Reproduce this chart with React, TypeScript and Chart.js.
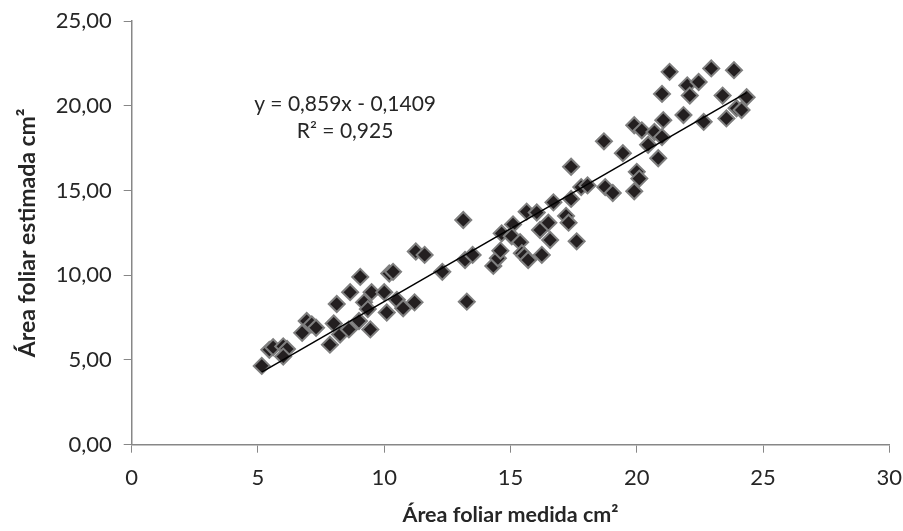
import React, { useEffect, useRef } from "react";
import { Chart, registerables } from "chart.js";

Chart.register(...registerables);

// Measured leaf area (x) and estimated leaf area (y), cm²
const measured: number[] = [
  5.15, 5.45, 5.6, 6.0, 6.15, 6.0, 6.75, 6.93, 7.13, 7.3, 7.85, 8.0, 8.25, 8.12, 8.6, 8.65,
  9.0, 9.05, 9.2, 9.35, 9.45, 9.5, 10.0, 10.2, 10.35, 10.1, 10.5, 10.75, 11.2, 11.25, 11.6, 12.3,
  13.13, 13.27, 13.2, 13.5, 14.32, 14.5, 14.6, 14.65, 15.1, 15.05, 15.38, 15.45, 15.55, 15.7,
  15.64, 16.04, 16.17, 16.24, 16.5, 16.57, 16.7, 17.2, 17.3, 17.4, 17.62, 17.4, 17.8, 18.05,
  18.7, 18.75, 19.05, 19.45, 19.9, 20.2, 20.45, 20.7, 21.0, 20.85, 20.0, 20.1, 19.9, 21.0,
  21.3, 21.05, 21.85, 22.0, 22.1, 22.45, 22.65, 22.95, 23.4, 23.55, 23.85, 23.95, 24.15, 24.35,
];
const estimated: number[] = [
  4.65, 5.6, 5.75, 5.8, 5.65, 5.2, 6.6, 7.3, 7.1, 6.9, 5.9, 7.15, 6.5, 8.3, 6.8, 9.0,
  7.3, 9.9, 8.4, 8.0, 6.8, 9.0, 9.0, 10.1, 10.2, 7.8, 8.55, 8.05, 8.4, 11.4, 11.2, 10.2,
  13.26, 8.44, 10.9, 11.2, 10.55, 11.0, 11.45, 12.47, 13.0, 12.3, 11.95, 11.3, 11.15, 10.9,
  13.75, 13.7, 12.67, 11.2, 13.1, 12.08, 14.3, 13.5, 13.1, 14.5, 12.0, 16.4, 15.2, 15.3,
  17.9, 15.2, 14.85, 17.2, 18.85, 18.55, 17.7, 18.45, 18.15, 16.9, 16.1, 15.7, 14.95, 20.7,
  22.0, 19.15, 19.45, 21.2, 20.6, 21.4, 19.05, 22.2, 20.6, 19.25, 22.1, 19.85, 19.75, 20.5,
];

// Linear trend (from the chart's equation)
const slope = 0.859;
const intercept = -0.1409;
const equationLines: string[] = ["y = 0,859x - 0,1409", "R² = 0,925"];
const equationAnchor = { x: 8.45, y: 20.1 };

const xTitle = "Área foliar medida cm²";
const yTitle = "Área foliar estimada cm²";
const xMax = 30;
const yMax = 25;
const tickStep = 5;

const FONT = "Lato";

export default function App() {
  const canvasRef = useRef<HTMLCanvasElement | null>(null);

  useEffect(() => {
    const canvas = canvasRef.current;
    if (!canvas) return;
    const points = measured.map((x, i) => ({ x, y: estimated[i] }));
    const xMinData = Math.min(...measured);
    const xMaxData = Math.max(...measured);
    const trend = [
      { x: xMinData, y: slope * xMinData + intercept },
      { x: xMaxData, y: slope * xMaxData + intercept },
    ];

    const annotationPlugin = {
      id: "equation",
      afterDraw(chart: any) {
        const ctx = chart.ctx;
        const xs = chart.scales.x;
        const ys = chart.scales.y;
        const px = xs.getPixelForValue(equationAnchor.x);
        const py = ys.getPixelForValue(equationAnchor.y);
        ctx.save();
        ctx.font = `21px ${FONT}`;
        ctx.fillStyle = "#262626";
        ctx.textAlign = "center";
        ctx.textBaseline = "middle";
        equationLines.forEach((t, i) => ctx.fillText(t, px, py + i * 27));
        ctx.restore();
      },
    };

    const chart = new Chart(canvas, {
      type: "scatter",
      data: {
        datasets: [
          {
            type: "line",
            data: trend,
            borderColor: "#000000",
            borderWidth: 1.5,
            pointRadius: 0,
            fill: false,
            order: 0,
          } as any,
          {
            data: points,
            pointStyle: "rectRot",
            pointRadius: 8,
            pointBackgroundColor: "#231f20",
            pointBorderColor: "#7f7f7f",
            pointBorderWidth: 2,
            order: 1,
          },
        ],
      },
      options: {
        animation: false,
        responsive: false,
        maintainAspectRatio: false,
        layout: { padding: { top: 21, right: 13.7, left: 0, bottom: 0 } },
        plugins: { legend: { display: false }, tooltip: { enabled: false } },
        scales: {
          x: {
            type: "linear",
            min: 0,
            max: xMax,
            afterFit: (s: any) => {
              s.height = 86.3;
              s.paddingLeft = 0;
              s.paddingRight = 0;
            },
            ticks: {
              stepSize: tickStep,
              color: "#262626",
              font: { family: FONT, size: 22 },
              padding: 12,
            },
            grid: {
              display: true,
              drawOnChartArea: false,
              drawTicks: true,
              tickLength: 8,
              color: "#878787",
            },
            border: { display: true, color: "#878787", width: 1.5 },
            title: {
              display: true,
              text: xTitle,
              color: "#262626",
              font: { family: FONT, size: 21.5, weight: "bold" },
              padding: { top: 0, bottom: 3 },
            },
          },
          y: {
            type: "linear",
            min: 0,
            max: yMax,
            afterFit: (s: any) => {
              s.width = 131.7;
              s.paddingTop = 0;
              s.paddingBottom = 0;
            },
            ticks: {
              stepSize: tickStep,
              color: "#262626",
              font: { family: FONT, size: 22 },
              padding: 12,
              callback: (v: any) => Number(v).toFixed(2).replace(".", ","),
            },
            grid: {
              display: true,
              drawOnChartArea: false,
              drawTicks: true,
              tickLength: 8,
              color: "#878787",
            },
            border: { display: true, color: "#878787", width: 1.5 },
            title: {
              display: true,
              text: yTitle,
              color: "#262626",
              font: { family: FONT, size: 23, weight: "bold" },
              padding: { top: 14, bottom: 0 },
            },
          },
        },
      },
      plugins: [annotationPlugin],
    });

    return () => chart.destroy();
  }, []);

  return (
    <div style={{ position: "fixed", left: 0, top: 0, width: 903, height: 531, background: "#ffffff" }}>
      <canvas ref={canvasRef} width={903} height={531} style={{ width: 903, height: 531 }} />
    </div>
  );
}
